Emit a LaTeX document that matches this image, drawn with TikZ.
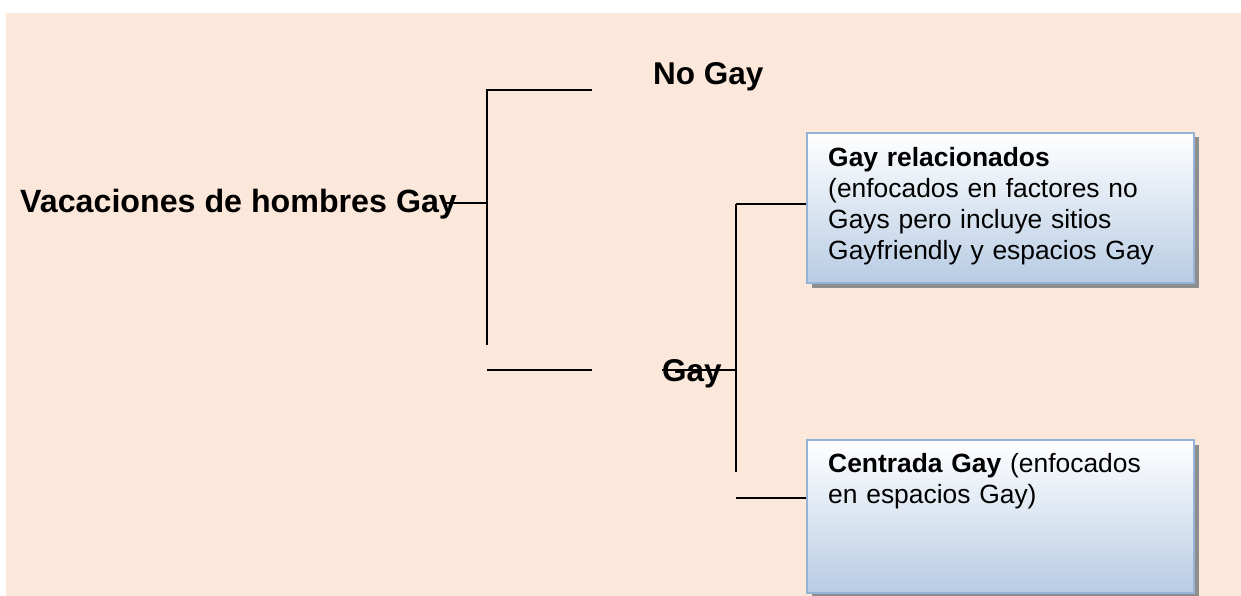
\documentclass[tikz,border=0pt]{standalone}
\usepackage{fontspec}
\setmainfont{Liberation Sans}
\usetikzlibrary{shadows}
\definecolor{bgpeach}{HTML}{FCE8DA}
\definecolor{panelblue}{HTML}{B8CCE4}
\definecolor{panelborder}{HTML}{95B3D7}
\definecolor{shadowgray}{HTML}{8E8E8E}
\tikzset{
  bigtext/.style={inner sep=0pt, anchor=base west, font=\fontsize{31.5}{37}\selectfont\bfseries},
  paneltext/.style={inner sep=0pt, anchor=base west, text width=360pt, align=left, font=\fontsize{26.4}{30.8}\selectfont},
  panel/.style={draw=panelborder, line width=2pt, top color=white, bottom color=panelblue,
    minimum width=387pt, anchor=north west, inner sep=0pt,
    general shadow={fill=shadowgray, shadow xshift=4.5pt, shadow yshift=-4.5pt}},
  bracket/.style={line width=1.9pt, line cap=butt},
  thinlink/.style={line width=1.3pt}
}
\begin{document}
\begin{tikzpicture}[x=1pt,y=-1pt]
\useasboundingbox (0,0) rectangle (1241,596);
\fill[bgpeach] (6,13) rectangle (1241,596);

% text nodes
\node[bigtext, font=\fontsize{32.2}{37}\selectfont\bfseries] (vac) at (20,212.7) {Vacaciones de hombres Gay};
\node[bigtext] (nogay) at (653,84.3) {No Gay};
\node[bigtext] (gay) at (662,381.7) {Gay};

% panels
\node[panel, minimum height=150pt] (box1) at (806,132) {};
\node[panel, minimum height=153pt] (box2) at (806,439) {};
\node[paneltext] (box1text) at (828,167) {\textbf{Gay relacionados}\\(enfocados en factores no\\Gays pero incluye sitios\\Gayfriendly y espacios Gay};
\node[paneltext] (box2text) at (828,472.7) {\textbf{Centrada Gay} (enfocados\\en espacios Gay)};

% junction coordinates
\coordinate (j1) at (487,203);
\coordinate (t1) at (487,90);
\coordinate (b1) at (487,345);
\coordinate (nogayend) at (592,90);
\coordinate (low1) at (487,370);
\coordinate (lowend) at (592,370);
\coordinate (j2) at (736,370);
\coordinate (t2) at (736,204);
\coordinate (b2) at (736,472);
\coordinate (c2) at (736,498);

% first bracket
\draw[thinlink] ([xshift=-14pt]vac.east |- j1) -- (j1);
\draw[bracket] (b1) -- (t1) -- (nogayend);
\draw[bracket] (low1) -- (lowend);

% second bracket
\draw[thinlink] (gay.west |- j2) -- (j2);
\draw[bracket] (b2) -- (t2);
\draw[thinlink] (t2) -- (box1.west |- t2);
\draw[thinlink] (c2) -- (box2.west |- c2);
\end{tikzpicture}
\end{document}
